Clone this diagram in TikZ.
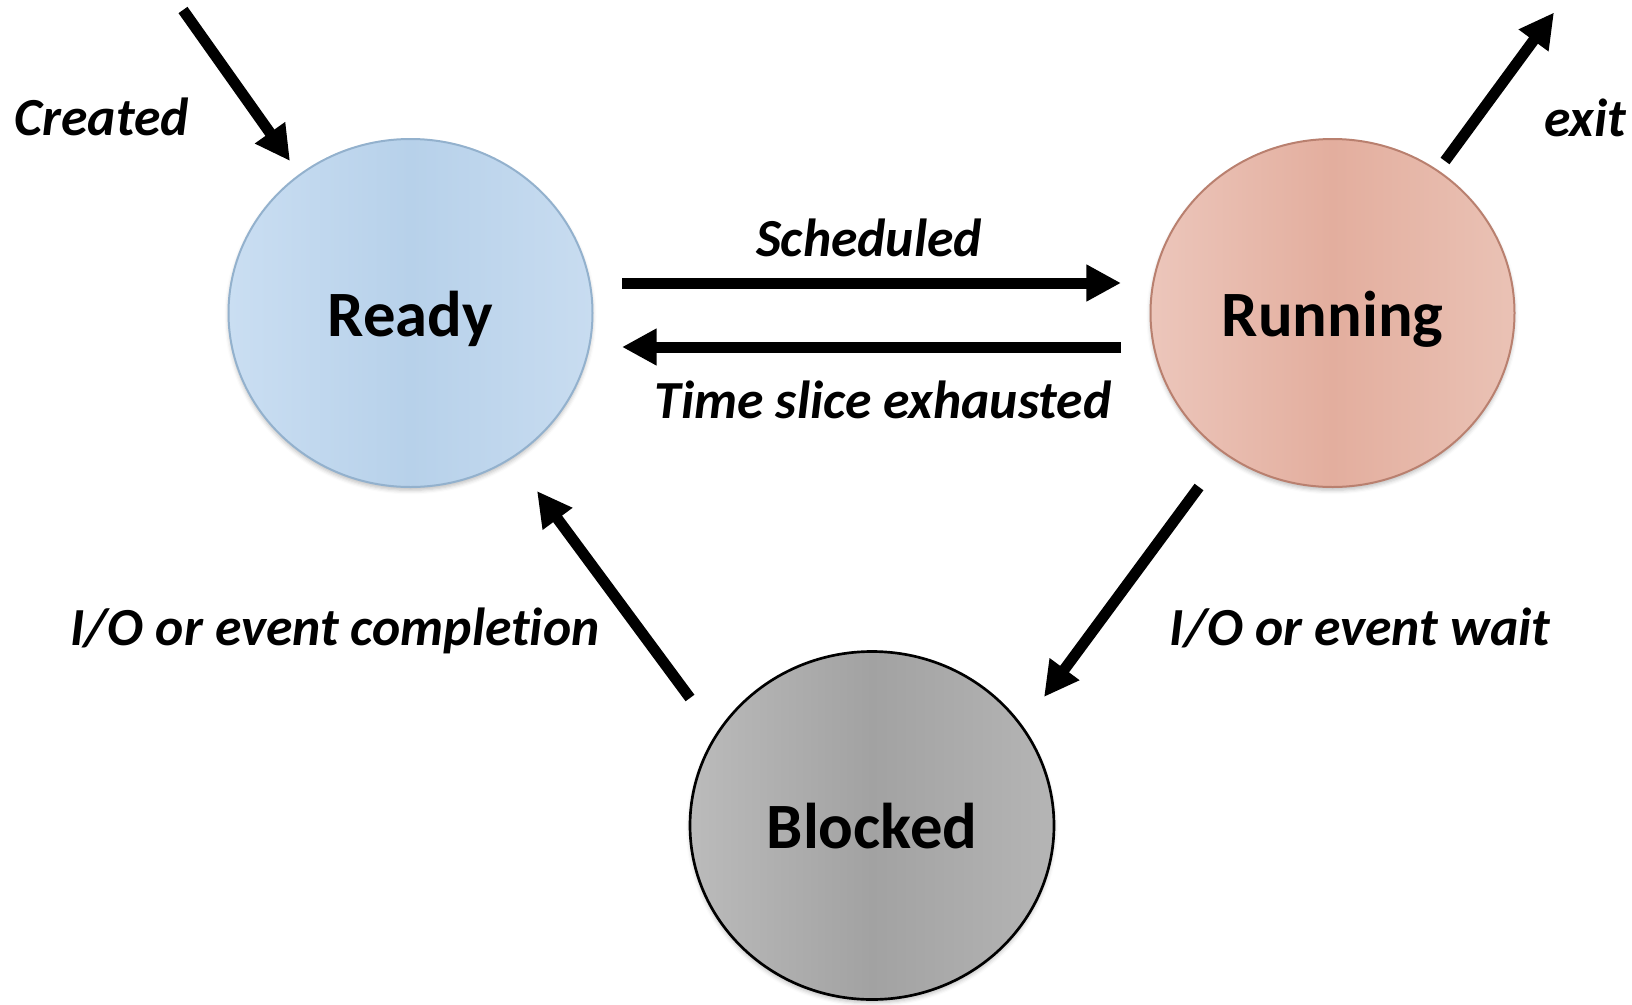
\documentclass[tikz,border=0pt]{standalone}
\usepackage{fontspec}
\setmainfont{Carlito}[Ligatures=NoCommon]
\usetikzlibrary{arrows.meta,shapes.geometric,shadows.blur}

\definecolor{readyL}{HTML}{CADEF2}
\definecolor{readyM}{HTML}{B7D1EA}
\definecolor{readyR}{HTML}{C8DCF0}
\definecolor{readyEdge}{HTML}{93B1CD}
\definecolor{runL}{HTML}{ECC6BB}
\definecolor{runM}{HTML}{E3AE9E}
\definecolor{runR}{HTML}{EAC2B5}
\definecolor{runEdge}{HTML}{B9806F}
\definecolor{blkL}{HTML}{BBBBBB}
\definecolor{blkM}{HTML}{A2A2A2}
\definecolor{blkR}{HTML}{B5B5B5}

\begin{document}
\begin{tikzpicture}[x=0.75pt,y=-0.75pt,
  state/.style={ellipse, minimum width=273pt, minimum height=261pt, inner sep=0pt,
    font=\bfseries\fontsize{48.5}{52}\selectfont, text height=35pt, text depth=0pt,
    line width=1.5pt,
    blur shadow={shadow xshift=0pt, shadow yshift=-2.5pt, shadow blur radius=3pt, shadow opacity=25}},
  flow/.style={line width=8.25pt, -{Triangle[width=26pt,length=26pt]}},
  lbl/.style={font=\bfseries\itshape\fontsize{40.2}{44}\selectfont, anchor=base, inner sep=0pt}]
\useasboundingbox (0,0) rectangle (1632,1004);

% the three process states
\node[state, draw=readyEdge, left color=readyL, right color=readyR, middle color=readyM] (ready) at (410.5,313) {Ready};
\node[state, draw=runEdge, left color=runL, right color=runR, middle color=runM] (running) at (1332.5,313) {Running};
\node[state, draw=black, line width=2pt, left color=blkL, right color=blkR, middle color=blkM] (blocked) at (872,825.5) {Blocked};

% entry and exit points
\coordinate (newproc) at (183,10);
\coordinate (done) at (1554,12.5);

% transitions
\draw[flow] (newproc) -- ([shift={(-120.5,-152)}]ready.center);
\draw[flow] ([shift={(112.5,-152)}]running.center) -- (done);
\draw[flow] ([shift={(211.5,-30)}]ready.center) -- ([shift={(-211.5,-30)}]running.center);
\draw[flow] ([shift={(-211.5,34)}]running.center) -- ([shift={(211.5,34)}]ready.center);
\draw[flow] ([shift={(-133.5,174)}]running.center) -- ([shift={(172,-128.5)}]blocked.center);
\draw[flow] ([shift={(-182,-127.5)}]blocked.center) -- ([shift={(126.5,178)}]ready.center);

% transition labels
\node[lbl] (lcreated) at (102,135) {Created};
\node[lbl] (lexit) at (1585,136) {exit};
\node[lbl] (lsched) at (869,256) {Scheduled};
\node[lbl] (lslice) at (883,418) {Time slice exhausted};
\node[lbl] (lcompl) at (335,645) {I/O or event completion};
\node[lbl] (lwait) at (1360,645) {I/O or event wait};
\end{tikzpicture}
\end{document}
